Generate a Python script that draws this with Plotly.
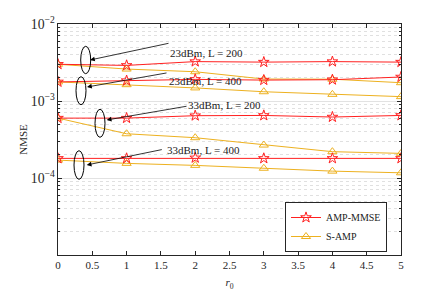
import plotly.graph_objects as go

r0 = [0, 1, 2, 3, 4, 5]

amp_23_200 = [3.0e-3, 2.9e-3, 3.25e-3, 3.2e-3, 3.25e-3, 3.2e-3]
samp_23_200 = [3.0e-3, 2.6e-3, 2.4e-3, 1.93e-3, 1.92e-3, 1.73e-3]
amp_23_400 = [1.77e-3, 1.84e-3, 1.91e-3, 1.87e-3, 1.89e-3, 2.05e-3]
samp_23_400 = [1.77e-3, 1.63e-3, 1.48e-3, 1.32e-3, 1.22e-3, 1.14e-3]
amp_33_200 = [6.0e-4, 6.0e-4, 6.45e-4, 6.5e-4, 6.2e-4, 6.5e-4]
samp_33_200 = [6.0e-4, 3.76e-4, 3.34e-4, 2.68e-4, 2.2e-4, 2.09e-4]
amp_33_400 = [1.8e-4, 1.8e-4, 1.83e-4, 1.8e-4, 1.8e-4, 1.8e-4]
samp_33_400 = [1.71e-4, 1.55e-4, 1.46e-4, 1.34e-4, 1.23e-4, 1.17e-4]

labels = ["23dBm, L = 200", "23dBm, L = 400", "33dBm, L = 200", "33dBm, L = 400"]

RED = "#ff2020"
YEL = "#EDB120"
FONT = "Liberation Serif"

fig = go.Figure()
amp_sets = [amp_23_200, amp_23_400, amp_33_200, amp_33_400]
samp_sets = [samp_23_200, samp_23_400, samp_33_200, samp_33_400]
for i, s in enumerate(samp_sets):
    fig.add_trace(go.Scatter(x=r0, y=s, mode="lines+markers", name="S-AMP",
                             showlegend=(i == 0), legendrank=2,
                             line=dict(color=YEL, width=1),
                             marker=dict(symbol="triangle-up-open", size=8, color=YEL,
                                         line=dict(width=1))))
for i, s in enumerate(amp_sets):
    fig.add_trace(go.Scatter(x=r0, y=s, mode="lines+markers", name="AMP-MMSE",
                             showlegend=(i == 0), legendrank=1,
                             line=dict(color=RED, width=1),
                             marker=dict(symbol="star-open", size=8, color=RED,
                                         line=dict(width=1))))

# geometry helpers (pixel -> paper), plot area 58..401 x 24..255
L, R, T, B = 58, 401, 24, 255
def px(x):
    return (x - L) / (R - L)
def py(y):
    return (B - y) / (B - T)

ellipses = [(85.7, 60, 5, 13.7), (81, 90.7, 5, 14), (100, 123.3, 5, 14), (79, 165, 5, 14.3)]
arrows = [((170, 43), (90, 60)), ((168, 72.7), (87, 87)),
          ((188, 106), (106.7, 120)), ((163.3, 149.3), (86.7, 165))]
text_pos = [(206, 45), (205, 73), (224, 105), (203, 150)]

shapes = []
for cx, cy, rx, ry in ellipses:
    shapes.append(dict(type="circle", xref="paper", yref="paper",
                       x0=px(cx - rx), x1=px(cx + rx), y0=py(cy + ry), y1=py(cy - ry),
                       line=dict(color="black", width=1)))

annotations = []
for (tail, head), (tx, ty), lab in zip(arrows, text_pos, labels):
    annotations.append(dict(xref="paper", yref="paper", x=px(head[0]), y=py(head[1]),
                            ax=tail[0] - head[0], ay=tail[1] - head[1],
                            text="", showarrow=True, arrowhead=2, arrowsize=1.2,
                            arrowwidth=0.8, arrowcolor="black"))
    annotations.append(dict(xref="paper", yref="paper", x=px(tx), y=py(ty),
                            text=lab, showarrow=False,
                            font=dict(family=FONT, size=11, color="#222")))

fig.update_layout(
    width=443, height=302,
    margin=dict(l=L, r=443 - R, t=T, b=302 - B),
    paper_bgcolor="white", plot_bgcolor="white",
    font=dict(family=FONT, size=11, color="#262626"),
    shapes=shapes, annotations=annotations,
    legend=dict(x=px(387), y=py(252), xanchor="right", yanchor="bottom",
                bordercolor="#262626", borderwidth=1, bgcolor="white",
                font=dict(family=FONT, size=10, color="#222"),
                tracegroupgap=0, itemwidth=30),
    xaxis=dict(range=[0, 5], dtick=0.5, ticks="inside", ticklen=4, mirror="ticks",
               showline=True, linecolor="#262626", linewidth=1, showgrid=False,
               zeroline=False, tickcolor="#262626",
               title=dict(text="<i>r</i><sub>0</sub>", standoff=8,
                          font=dict(family=FONT, size=11))),
    yaxis=dict(type="log", range=[-4.999, -2], dtick=1, exponentformat="power",
               ticks="inside", ticklen=4, mirror="ticks", showline=True,
               linecolor="#262626", linewidth=1, tickcolor="#262626",
               showgrid=True, gridcolor="#e2e2e2", gridwidth=1, zeroline=False,
               minor=dict(dtick="D1", ticks="inside", ticklen=2, tickcolor="#262626",
                          showgrid=True, gridcolor="#e0e0e0", griddash="dot"),
               title=dict(text="NMSE", standoff=0, font=dict(family=FONT, size=11))),
)

fig.write_html("out.html", post_script="document.body.style.margin='0';",
               config={"displayModeBar": False})
